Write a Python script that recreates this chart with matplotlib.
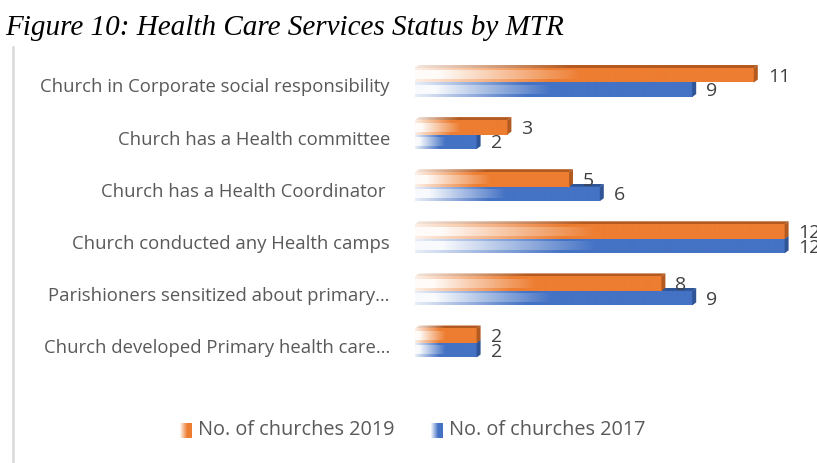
import numpy as np
import matplotlib.pyplot as plt
from matplotlib.colors import to_rgb
from matplotlib.patches import Polygon
from matplotlib.lines import Line2D

categories = [
    "Church in Corporate social responsibility",
    "Church has a Health committee",
    "Church has a Health Coordinator ",
    "Church conducted any Health camps",
    "Parishioners sensitized about primary…",
    "Church developed Primary health care…",
]
churches_2019 = [11, 3, 5, 12, 8, 2]
churches_2017 = [9, 2, 6, 12, 9, 2]
series_names = ["No. of churches 2019", "No. of churches 2017"]

ORANGE, ORANGE_DARK = "#ED7D31", "#B35A20"
BLUE, BLUE_DARK = "#4472C4", "#2F5597"
LABEL_FONT = "Open Sans"

W, H = 817, 463
fig = plt.figure(figsize=(W / 100, H / 100), dpi=100)

# pixel scale of the plot area
px_x, px_y = 30.8, 52.1
x0_px = 415
ytop, ybot = -0.8, 5.8
top_px = 82.5 + ytop * px_y
ax = fig.add_axes([x0_px / W, 1 - (top_px + (ybot - ytop) * px_y) / H,
                   (W - x0_px) / W, (ybot - ytop) * px_y / H])

bar_h = 14.5 / px_y
dx, dy = 4 / px_x, 3 / px_y


def ramp(n, start, span):
    x = np.linspace(0, 1, n)
    return np.clip((x - start) / span, 0, 1)


def blend(color, t, floor=0.06):
    t = floor + (1 - floor) * t
    c = np.array(to_rgb(color))
    return np.ones(3) * (1 - t[..., None]) + c * t[..., None]


def front_image(color, n=200, rows=15):
    outer = blend(color, ramp(n, 0.0, 0.40), floor=0.12)
    inner = blend(color, ramp(n, 0.07, 0.42), floor=0.03)
    img = np.empty((rows, n, 3))
    for r in range(rows):
        img[r] = outer if (r < 3 or r >= rows - 3) else inner
    return img


def draw_bar(y_top, y_bot, value, color, dark):
    # front face with a left-to-right fade
    ax.imshow(front_image(color), extent=(0, value, y_bot, y_top),
              origin="upper", aspect="auto", interpolation="bilinear", zorder=2)
    # top face
    top = Polygon([(0, y_top), (value, y_top), (value + dx, y_top - dy), (dx, y_top - dy)],
                  closed=True, facecolor="none", edgecolor="none")
    ax.add_patch(top)
    timg = blend(dark, ramp(200, 0.0, 0.45), floor=0.15)[None, :, :]
    im = ax.imshow(timg, extent=(0, value + dx, y_top, y_top - dy), origin="upper",
                   aspect="auto", interpolation="bilinear", zorder=2)
    im.set_clip_path(top)
    # right side face
    ax.add_patch(Polygon([(value, y_top), (value + dx, y_top - dy),
                          (value + dx, y_bot - dy), (value, y_bot)],
                         closed=True, facecolor=dark, edgecolor="none", zorder=2))


for i, (v19, v17) in enumerate(zip(churches_2019, churches_2017)):
    draw_bar(i, i + bar_h, v17, BLUE, BLUE_DARK)
    draw_bar(i - bar_h, i, v19, ORANGE, ORANGE_DARK)
    pad = 14 / px_x
    ax.text(v19 + pad, i - bar_h / 2 + 1.5 / px_y, str(v19), ha="left", va="center",
            fontsize=14, color="#404040", family=LABEL_FONT, clip_on=False, zorder=3)
    ax.text(v17 + pad, i + bar_h / 2 + 1.5 / px_y, str(v17), ha="left", va="center",
            fontsize=14, color="#404040", family=LABEL_FONT, clip_on=False, zorder=3)
    ax.text(-25 / px_x, i + 5 / px_y, categories[i], ha="right", va="center",
            fontsize=13.3, color="#595959", family=LABEL_FONT, clip_on=False)

ax.set_xlim(0, (W - x0_px) / px_x)
ax.set_ylim(ybot, ytop)
ax.axis("off")

# title
fig.text(5 / W, 1 - 28 / H, "Figure 10: Health Care Services Status by MTR",
         family="Liberation Serif", style="italic", fontsize=21, va="center", ha="left")

# chart border on the left
fig.add_artist(Line2D([13 / W, 13 / W], [0, 1 - 47 / H], color="#d9d9d9", lw=1.8))

# legend
legend_items = [(180, series_names[0], ORANGE), (431, series_names[1], BLUE)]
for x_px, name, color in legend_items:
    kax = fig.add_axes([x_px / W, 1 - 438 / H, 12 / W, 15 / H])
    kax.imshow(blend(color, ramp(40, 0.0, 0.6))[None, :, :], aspect="auto",
               interpolation="bilinear")
    kax.axis("off")
    fig.text((x_px + 18) / W, 1 - 430 / H, name, ha="left", va="center",
             fontsize=14.3, color="#595959", family=LABEL_FONT)

fig.savefig("out.png", dpi=100, facecolor="white")
